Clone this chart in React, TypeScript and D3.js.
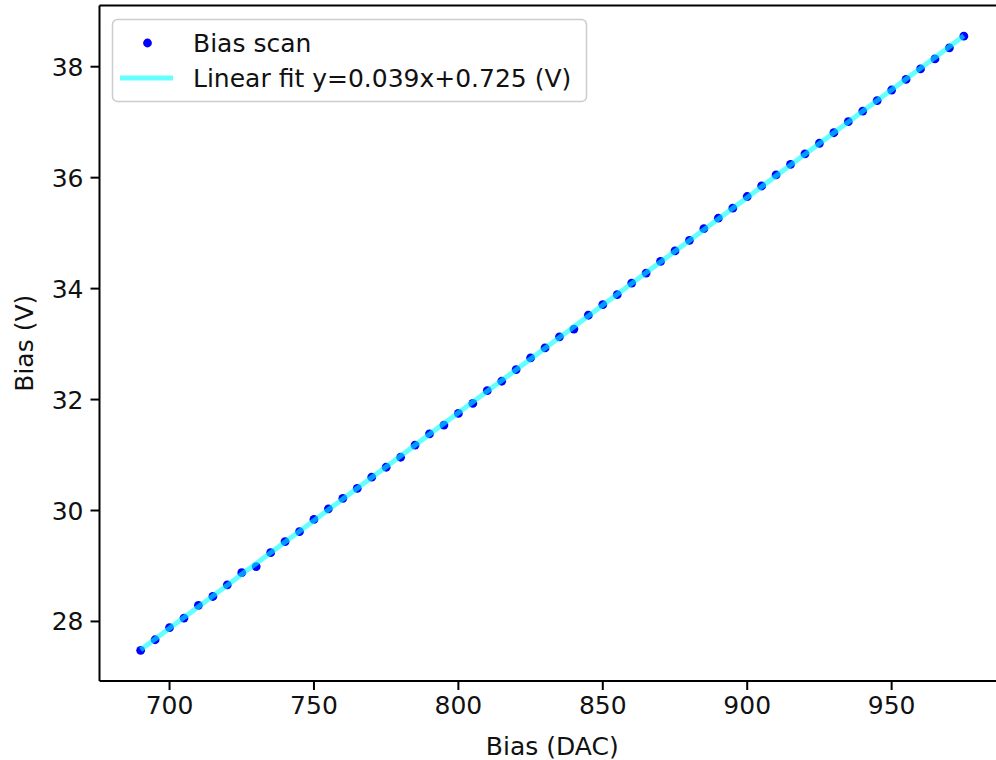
import React, { useEffect, useRef } from "react";
import * as d3 from "d3";

const biasDac: number[] = [
  690, 695, 700, 705, 710, 715, 720, 725, 730, 735, 740, 745, 750, 755, 760, 765,
  770, 775, 780, 785, 790, 795, 800, 805, 810, 815, 820, 825, 830, 835, 840, 845,
  850, 855, 860, 865, 870, 875, 880, 885, 890, 895, 900, 905, 910, 915, 920, 925,
  930, 935, 940, 945, 950, 955, 960, 965, 970, 975,
];
const biasVolt: number[] = [
  27.48, 27.67, 27.89, 28.06, 28.29, 28.45, 28.66, 28.88, 28.99, 29.24, 29.44, 29.62,
  29.84, 30.03, 30.22, 30.4, 30.6, 30.78, 30.96, 31.18, 31.38, 31.54, 31.75, 31.93,
  32.16, 32.33, 32.54, 32.75, 32.93, 33.13, 33.27, 33.52, 33.71, 33.89, 34.1, 34.28,
  34.49, 34.68, 34.87, 35.08, 35.27, 35.45, 35.66, 35.85, 36.05, 36.24, 36.43, 36.62,
  36.81, 37.01, 37.2, 37.39, 37.58, 37.77, 37.96, 38.14, 38.34, 38.55,
];
const xTicks: number[] = [700, 750, 800, 850, 900, 950];
const yTicks: number[] = [28, 30, 32, 34, 36, 38];
const legendLabels: string[] = ["Bias scan", "Linear fit y=0.039x+0.725 (V)"];
const xLabel = "Bias (DAC)";
const yLabel = "Bias (V)";

export default function App() {
  const ref = useRef<SVGSVGElement | null>(null);

  useEffect(() => {
    document.body.style.margin = "0";
    const svg = d3.select(ref.current);
    svg.selectAll("*").remove();

    const W = 996, H = 760;
    const left = 99.5, right = 1005, top = 5.5, bottom = 681;
    const font = "DejaVu Sans, sans-serif";
    const fs = 25;

    const [x0, x1] = d3.extent(biasDac) as [number, number];
    const [y0, y1] = d3.extent(biasVolt) as [number, number];
    const mx = (x1 - x0) * 0.05, my = (y1 - y0) * 0.05;
    const x = d3.scaleLinear().domain([x0 - mx, x1 + mx]).range([left, right]);
    const y = d3.scaleLinear().domain([y0 - my, y1 + my]).range([bottom, top]);

    // least squares fit
    const n = biasDac.length;
    const mX = d3.mean(biasDac)!, mY = d3.mean(biasVolt)!;
    let sxy = 0, sxx = 0;
    for (let i = 0; i < n; i++) {
      sxy += (biasDac[i] - mX) * (biasVolt[i] - mY);
      sxx += (biasDac[i] - mX) ** 2;
    }
    const slope = sxy / sxx;
    const icpt = mY - slope * mX;

    svg.attr("width", W).attr("height", H);
    svg.append("rect").attr("width", W).attr("height", H).attr("fill", "white");

    const clip = svg.append("defs").append("clipPath").attr("id", "clip");
    clip.append("rect").attr("x", left).attr("y", top).attr("width", right - left).attr("height", bottom - top);

    const plot = svg.append("g").attr("clip-path", "url(#clip)");
    plot.selectAll("circle.pt")
      .data(biasDac)
      .enter()
      .append("circle")
      .attr("class", "pt")
      .attr("cx", (d) => x(d))
      .attr("cy", (_d, i) => y(biasVolt[i]))
      .attr("r", 4.4)
      .attr("fill", "#0000ff");

    const line = d3.line<number>().x((d) => x(d)).y((d) => y(slope * d + icpt));
    plot.append("path")
      .datum(biasDac)
      .attr("d", line)
      .attr("fill", "none")
      .attr("stroke", "#00ffff")
      .attr("stroke-opacity", 0.6)
      .attr("stroke-width", 5);

    // spines
    const sp = svg.append("g").attr("stroke", "black").attr("stroke-width", 2).attr("fill", "none");
    sp.append("line").attr("x1", left).attr("x2", left).attr("y1", top).attr("y2", bottom);
    sp.append("line").attr("x1", left).attr("x2", right).attr("y1", bottom).attr("y2", bottom);
    sp.append("line").attr("x1", left).attr("x2", right).attr("y1", top).attr("y2", top);
    sp.append("line").attr("x1", right).attr("x2", right).attr("y1", top).attr("y2", bottom);

    // x ticks
    const xt = svg.append("g");
    xTicks.forEach((t) => {
      const px = x(t);
      xt.append("line").attr("x1", px).attr("x2", px).attr("y1", bottom).attr("y2", bottom + 9)
        .attr("stroke", "black").attr("stroke-width", 2);
      xt.append("text").attr("x", px).attr("y", bottom + 14).attr("dy", "0.76em")
        .attr("text-anchor", "middle").attr("font-family", font).attr("font-size", fs)
        .attr("fill", "#111").text(String(t));
    });
    // y ticks
    const yt = svg.append("g");
    yTicks.forEach((t) => {
      const py = y(t);
      yt.append("line").attr("x1", left - 9).attr("x2", left).attr("y1", py).attr("y2", py)
        .attr("stroke", "black").attr("stroke-width", 2);
      yt.append("text").attr("x", left - 16).attr("y", py).attr("dy", "0.36em")
        .attr("text-anchor", "end").attr("font-family", font).attr("font-size", fs)
        .attr("fill", "#111").text(String(t));
    });

    // axis labels
    svg.append("text").attr("x", (left + right) / 2).attr("y", 755)
      .attr("text-anchor", "middle").attr("font-family", font).attr("font-size", fs)
      .attr("fill", "#111").text(xLabel);
    svg.append("text").attr("transform", `translate(33,${(top + bottom) / 2}) rotate(-90)`)
      .attr("text-anchor", "middle").attr("font-family", font).attr("font-size", fs)
      .attr("fill", "#111").text(yLabel);

    // legend
    const lg = svg.append("g");
    lg.append("rect").attr("x", 112.5).attr("y", 19.5).attr("width", 474).attr("height", 82)
      .attr("rx", 5).attr("fill", "white").attr("fill-opacity", 0.8)
      .attr("stroke", "#cccccc").attr("stroke-width", 1.5);
    lg.append("circle").attr("cx", 147.5).attr("cy", 43).attr("r", 4.4).attr("fill", "#0000ff");
    lg.append("line").attr("x1", 120).attr("x2", 173).attr("y1", 78).attr("y2", 78)
      .attr("stroke", "#00ffff").attr("stroke-opacity", 0.6).attr("stroke-width", 5);
    legendLabels.forEach((l, i) => {
      lg.append("text").attr("x", 193).attr("y", i === 0 ? 43 : 78).attr("dy", "0.36em")
        .attr("font-family", font).attr("font-size", fs).attr("fill", "#111").text(l);
    });
  }, []);

  return (
    <div style={{ position: "absolute", left: 0, top: 0 }}>
      <svg ref={ref} />
    </div>
  );
}
